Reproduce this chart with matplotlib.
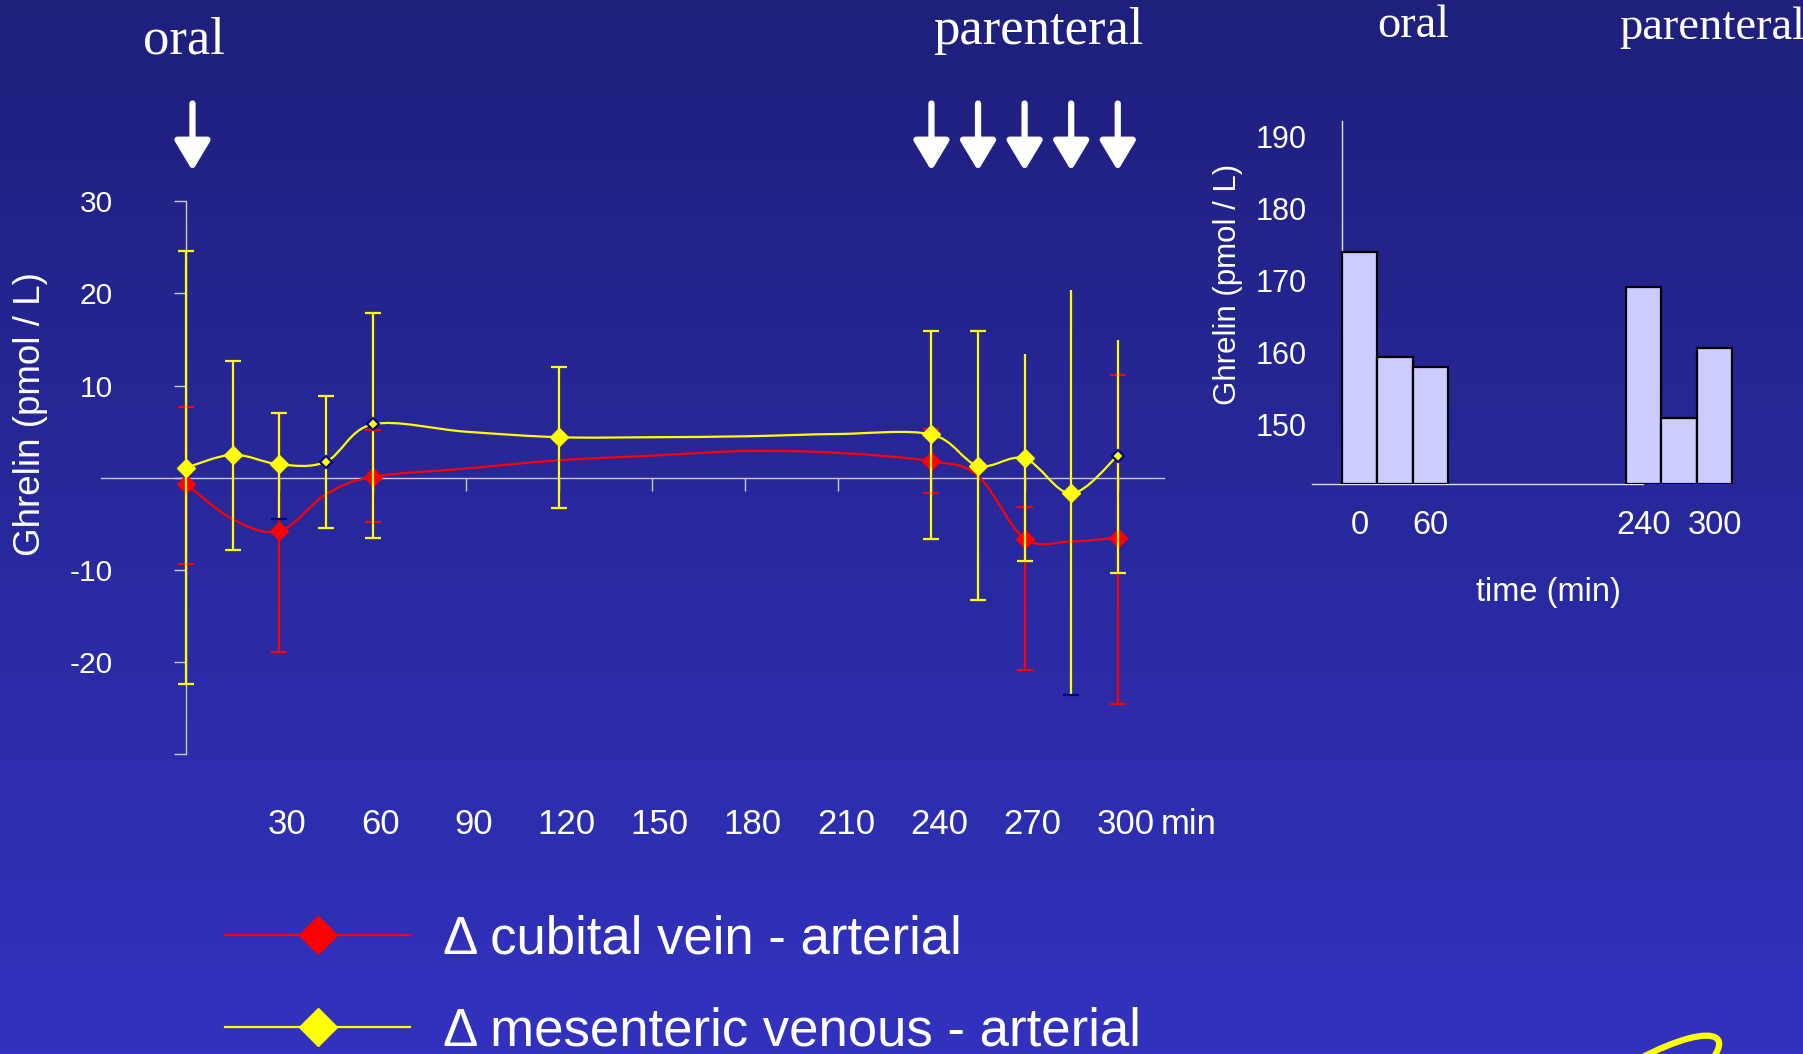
import numpy as np
import matplotlib.pyplot as plt
from matplotlib.path import Path
from matplotlib.patches import PathPatch, Arc
from matplotlib.lines import Line2D
from matplotlib.colors import LinearSegmentedColormap

plt.rcParams['font.family'] = ['Liberation Sans', 'DejaVu Sans']

# time course (min) of the venous - arterial differences (pmol/L)
times = [0, 15, 30, 45, 60, 90, 120, 150, 180, 210, 240, 255, 270, 285, 300]
cubital = [-0.7, -4.5, -5.8, -1.8, 0.1, 1.0, 1.9, 2.4, 2.9, 2.7, 1.8, 0.2, -6.6, -6.9, -6.5]
mesenteric = [1.1, 2.5, 1.45, 1.75, 5.8, 5.0, 4.4, 4.4, 4.5, 4.75, 4.7, 1.3, 2.1, -1.7, 2.4]

# time points with marker and error bar (upper / lower end)
cubital_err_t = [0, 30, 60, 240, 270, 300]
cubital_hi = [7.7, 7.0, 5.2, 5.3, -3.2, 11.2]
cubital_lo = [-9.4, -18.9, -4.8, -1.6, -20.8, -24.5]

mesenteric_err_t = [0, 15, 30, 45, 60, 120, 240, 255, 270, 285, 300]
mesenteric_hi = [24.6, 12.7, 7.0, 8.9, 17.9, 12.0, 15.9, 15.9, 13.4, 20.4, 14.9]
mesenteric_lo = [-22.4, -7.8, -4.5, -5.5, -6.5, -3.3, -6.6, -13.3, -9.0, -23.6, -10.3]

# stimulus times (arrows)
oral_t = [0]
parenteral_t = [240, 255, 270, 285, 300]

ytick_vals = [-30, -20, -10, 0, 10, 20, 30]
ytick_labels = ['', '-20', '-10', '', '10', '20', '30']
xtick_vals = [30, 60, 90, 120, 150, 180, 210, 240, 270, 300]

# arterial ghrelin, right panel
bar_t = [0, 30, 60, 240, 270, 300]
bar_vals = [174.0, 159.4, 158.0, 169.2, 150.9, 160.7]
bar_ticks = [0, 60, 240, 300]
bar_yticks = [150, 160, 170, 180, 190]

legend_labels = ['\u0394 cubital vein - arterial', '\u0394 mesenteric venous - arterial']

NAVY = '#000080'
SERIF = ['Liberation Serif', 'DejaVu Serif']


def smooth_path(x, y):
    # bezier curve through the points (like a "smoothed line" in a slide chart)
    pts = np.column_stack([x, y]).astype(float)
    verts = [pts[0]]
    codes = [Path.MOVETO]
    n = len(pts)
    for i in range(n - 1):
        p0 = pts[max(i - 1, 0)]
        p1 = pts[i]
        p2 = pts[i + 1]
        p3 = pts[min(i + 2, n - 1)]
        verts += [p1 + (p2 - p0) / 6, p2 - (p3 - p1) / 6, p2]
        codes += [Path.CURVE4] * 3
    return Path(verts, codes)


fig = plt.figure(figsize=(18.03, 10.54), dpi=100)

# background gradient
bg = fig.add_axes([0, 0, 1, 1], zorder=-1)
cmap = LinearSegmentedColormap.from_list('bg', ['#1f1f7c', '#3232bf'])
bg.imshow(np.linspace(0, 1, 256).reshape(-1, 1), aspect='auto', cmap=cmap,
          extent=[0, 1, 0, 1], origin='upper')
bg.axis('off')

# ---------------- left panel ----------------
ax = fig.add_axes([0.05613, 0.2843, 0.5893, 0.5248])
ax.set_facecolor('none')
ax.set_xlim(-27.4, 314.8)
ax.set_ylim(-30, 30)
ax.spines['top'].set_visible(False)
ax.spines['right'].set_visible(False)
ax.spines['left'].set_position(('data', 0))
ax.spines['bottom'].set_position(('data', 0))
for s in ['left', 'bottom']:
    ax.spines[s].set_color('#c8c8e4')
    ax.spines[s].set_linewidth(1.0)
ax.set_yticks(ytick_vals)
ax.set_yticklabels(ytick_labels, fontsize=21.5, color='white')
ax.tick_params(axis='y', length=9, width=1, color='#c8c8e4', pad=44)
ax.set_xticks(xtick_vals)
ax.tick_params(axis='x', length=9, width=1, color='#c8c8e4', labelbottom=False)

for t in xtick_vals:
    ax.annotate(str(t), xy=(t, -37.6), xytext=(5.5, 0), textcoords='offset points',
                ha='center', va='center', fontsize=25, color='white',
                annotation_clip=False)
ax.annotate('min', xy=(300, -37.6), xytext=(31, 0), textcoords='offset points',
            ha='left', va='center', fontsize=25, color='white', annotation_clip=False)

t_arr = np.array(times)
red_v = np.array(cubital)
yel_v = np.array(mesenteric)

# cubital vein (red)
ax.add_patch(PathPatch(smooth_path(t_arr, red_v), fc='none', ec='red', lw=1.6, zorder=3))
red_m = np.array([cubital[times.index(t)] for t in cubital_err_t])
ax.vlines(cubital_err_t, cubital_lo, cubital_hi, color='red', lw=1.6, zorder=3)
ax.plot(cubital_err_t, cubital_hi, '_', color='red', ms=12, mew=1.6, zorder=3)
ax.plot(cubital_err_t, cubital_lo, '_', color='red', ms=12, mew=1.6, zorder=3)
ax.plot(cubital_err_t, red_m, 'D', color='red', ms=9, mec='red', zorder=4)

# mesenteric vein (yellow)
yel_m = np.array([mesenteric[times.index(t)] for t in mesenteric_err_t])
top_cap = [True] * 8 + [False] * 3
low_cap_col = ['yellow', 'yellow', NAVY] + ['yellow'] * 6 + [NAVY, 'yellow']
ax.vlines(mesenteric_err_t, mesenteric_lo, mesenteric_hi, color='yellow', lw=1.6, zorder=5)
for t, hi, lo, cap, cc in zip(mesenteric_err_t, mesenteric_hi, mesenteric_lo, top_cap, low_cap_col):
    if cap:
        ax.plot(t, hi, '_', color='yellow', ms=12, mew=1.6, zorder=5)
    ax.plot(t, lo, '_', color=cc, ms=12, mew=1.6, zorder=5)
ax.add_patch(PathPatch(smooth_path(t_arr, yel_v), fc='none', ec='yellow', lw=1.6, zorder=6))
small = [t in (45, 60, 300) for t in mesenteric_err_t]
big = [not s for s in small]
ax.plot(np.array(mesenteric_err_t)[big], yel_m[big], 'D', color='yellow', ms=9, mec='yellow', zorder=7)
ax.plot(np.array(mesenteric_err_t)[small], yel_m[small], 'D', color='yellow', ms=6.5,
        mec=NAVY, mew=1.5, zorder=7)

# arrows for the meals
for t in oral_t + parenteral_t:
    xa = t + (2 if t == 0 else 0)
    ax.annotate('', xy=(xa, 33.3), xytext=(xa, 40.6),
                arrowprops=dict(arrowstyle='-|>,head_length=0.6,head_width=0.36', color='white',
                                lw=4.5, mutation_scale=30, shrinkA=0, shrinkB=0),
                annotation_clip=False)

fig.text(184 / 1803, 1 - 53 / 1054, 'oral', ha='center', va='baseline', fontsize=38,
         color='white', family=SERIF)
fig.text(1038 / 1803, 1 - 44 / 1054, 'parenteral', ha='center', va='baseline', fontsize=38,
         color='white', family=SERIF)
fig.text(31 / 1803, 1 - 414 / 1054, 'Ghrelin (pmol / L)', rotation=90, ha='center',
         va='center', fontsize=26.5, color='white')

# legend
handles = [Line2D([], [], color='red', lw=1.6, marker='D', ms=19, mfc='red', mec='red'),
           Line2D([], [], color='yellow', lw=1.6, marker='D', ms=19, mfc='yellow', mec='yellow')]
fig.legend(handles, legend_labels, loc='upper left', bbox_to_anchor=(0.1249, 0.1324),
           frameon=False, fontsize=38, handlelength=3.5, handletextpad=0.63,
           labelspacing=0.79, borderpad=0, borderaxespad=0, labelcolor='white', numpoints=1)

# ---------------- right panel ----------------
ax2 = fig.add_axes([0.7277, 0.5408, 0.2429, 0.3446])
ax2.set_facecolor('none')
ax2.set_xlim(-40, 330)
ax2.set_ylim(141.8, 192.2)
ax2.spines['top'].set_visible(False)
ax2.spines['right'].set_visible(False)
ax2.spines['left'].set_position(('data', -15))
ax2.spines['bottom'].set_bounds(-40, 240)
for s in ['left', 'bottom']:
    ax2.spines[s].set_color('#e0e0f0')
    ax2.spines[s].set_linewidth(1.0)
ax2.bar(bar_t, np.array(bar_vals) - 141.8, bottom=141.8, width=30, color='#ccccff',
        edgecolor='black', lw=1.6, zorder=3)
ax2.set_yticks(bar_yticks)
ax2.set_yticklabels([str(v) for v in bar_yticks], fontsize=22, color='white')
ax2.set_xticks(bar_ticks)
ax2.set_xticklabels([str(v) for v in bar_ticks], fontsize=23.5, color='white')
ax2.tick_params(axis='y', length=0, pad=25)
ax2.tick_params(axis='x', length=0, pad=19)

fig.text(1548 / 1803, 1 - 593 / 1054, 'time (min)', ha='center', va='center',
         fontsize=23.5, color='white')
fig.text(1228 / 1803, 1 - 284 / 1054, 'Ghrelin (pmol / L)', rotation=90, ha='center',
         va='center', fontsize=22.5, color='white')
fig.text(1413 / 1803, 1 - 37 / 1054, 'oral', ha='center', va='baseline', fontsize=33.5,
         color='white', family=SERIF)
fig.text(1619 / 1803, 1 - 39 / 1054, 'parenteral', ha='left', va='baseline', fontsize=33.5,
         color='white', family=SERIF)

# corner logo swoosh
fig.patches.append(Arc((16.35, -0.36), 1.94, 0.5, angle=31, theta1=-30, theta2=50,
                       color='yellow', lw=4.5, transform=fig.dpi_scale_trans, figure=fig))

fig.savefig('out.png', dpi=100)
